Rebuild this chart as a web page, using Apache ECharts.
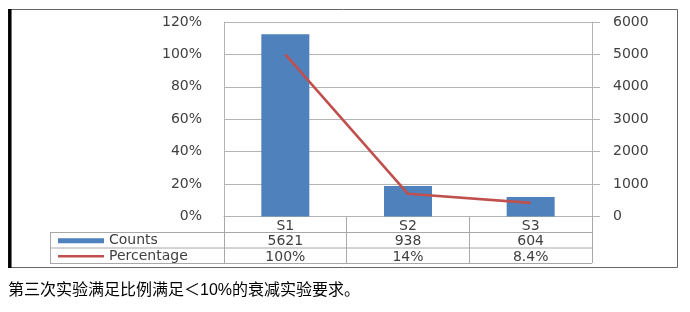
<!DOCTYPE html>
<html>
<head>
<meta charset="utf-8">
<script src="https://cdn.jsdelivr.net/npm/echarts@6/dist/echarts.min.js"></script>
<style>html,body{margin:0;padding:0;background:#fff}#c{width:690px;height:312px}</style>
</head>
<body>
<div id="c"></div>
<script>
const categories = ['S1', 'S2', 'S3'];
const counts = [5621, 938, 604];
const percentages = [100, 14, 8.4];
const percentLabels = ['100%', '14%', '8.4%'];
const leftTicks = [0, 120, 20];
const rightTicks = [0, 6000, 1000];
const caption = '第三次实验满足比例满足＜10%的衰减实验要求。';

const chart = echarts.init(document.getElementById('c'), null, {renderer: 'canvas'});
const labelFont = 'DejaVu Sans';
const txt = '#404040';
const gridCol = '#b4b4b4';
const tableCol = '#a8a8a8';
const L = 224, R = 592, T = 22, B = 216.5;
const barIcon = 'path://M0,0h0.01v0.01h-0.01zM0,5.25h46v5h-46zM46,15.49h0.01v0.01h-0.01z';
const lineIcon = 'path://M0,0h0.01v0.01h-0.01zM0,6.6h46v2.3h-46zM46,15.49h0.01v0.01h-0.01z';

chart.setOption({
  animation: false,
  backgroundColor: '#fff',
  grid: {left: L, right: 690 - R, top: T, bottom: 312 - B, containLabel: false},
  legend: {
    orient: 'vertical', left: 58, top: 233, itemGap: 0, padding: 0,
    itemWidth: 46, itemHeight: 15.5,
    textStyle: {fontFamily: labelFont, fontSize: 14, color: txt, lineHeight: 15.5},
    data: [
      {name: 'Counts', icon: barIcon, itemStyle: {color: '#4f81bd', borderWidth: 0}},
      {name: 'Percentage', icon: lineIcon, itemStyle: {color: '#c0504d', borderWidth: 0}, lineStyle: {width: 0, opacity: 0}}
    ]
  },
  xAxis: {
    type: 'category', data: categories, boundaryGap: true,
    axisLine: {show: true, lineStyle: {color: gridCol, width: 1}},
    axisTick: {show: true, length: 46.5, lineStyle: {color: tableCol}},
    axisLabel: {
      margin: 2, fontFamily: labelFont, fontSize: 14, color: txt, lineHeight: 15.5,
      formatter: (v, i) => v + '\n' + counts[i] + '\n' + percentLabels[i]
    }
  },
  yAxis: [
    {
      type: 'value', min: leftTicks[0], max: leftTicks[1], interval: leftTicks[2],
      axisLine: {show: true, lineStyle: {color: gridCol}},
      axisTick: {show: false},
      splitLine: {show: true, lineStyle: {color: gridCol}},
      axisLabel: {margin: 22, fontFamily: labelFont, fontSize: 14, color: txt, formatter: '{value}%'}
    },
    {
      type: 'value', position: 'right', min: rightTicks[0], max: rightTicks[1], interval: rightTicks[2],
      axisLine: {show: true, lineStyle: {color: gridCol}},
      axisTick: {show: true, inside: false, length: 8, lineStyle: {color: gridCol}},
      splitLine: {show: false},
      axisLabel: {margin: 21, fontFamily: labelFont, fontSize: 14, color: txt, formatter: v => String(v)}
    }
  ],
  series: [
    {
      name: 'Counts', type: 'bar', yAxisIndex: 1, data: counts,
      barWidth: 48, itemStyle: {color: '#4f81bd'}
    },
    {
      name: 'Percentage', type: 'line', yAxisIndex: 0, data: percentages,
      symbol: 'none', showSymbol: false,
      lineStyle: {color: '#c0504d', width: 2.6}, itemStyle: {color: '#c0504d'}
    }
  ],
  graphic: [
    {type: 'rect', shape: {x: 9.5, y: 9.5, width: 668, height: 258}, style: {fill: 'none', stroke: '#666', lineWidth: 1}, silent: true},
    {type: 'line', shape: {x1: 9.8, y1: 9, x2: 9.8, y2: 268}, style: {stroke: '#000', lineWidth: 3.5}, silent: true},
    {type: 'line', shape: {x1: 50, y1: 232.5, x2: R, y2: 232.5}, style: {stroke: tableCol, lineWidth: 1}, silent: true},
    {type: 'line', shape: {x1: 50, y1: 248, x2: R, y2: 248}, style: {stroke: tableCol, lineWidth: 1}, silent: true},
    {type: 'line', shape: {x1: 50, y1: 263.5, x2: R, y2: 263.5}, style: {stroke: tableCol, lineWidth: 1}, silent: true},
    {type: 'line', shape: {x1: 50.5, y1: 232.5, x2: 50.5, y2: 263.5}, style: {stroke: tableCol, lineWidth: 1}, silent: true},
    {type: 'text', left: 8, top: 283, style: {text: caption, font: '16px "Liberation Sans", "Noto Sans CJK SC"', fill: '#000'}, silent: true}
  ]
});
</script>
</body>
</html>
